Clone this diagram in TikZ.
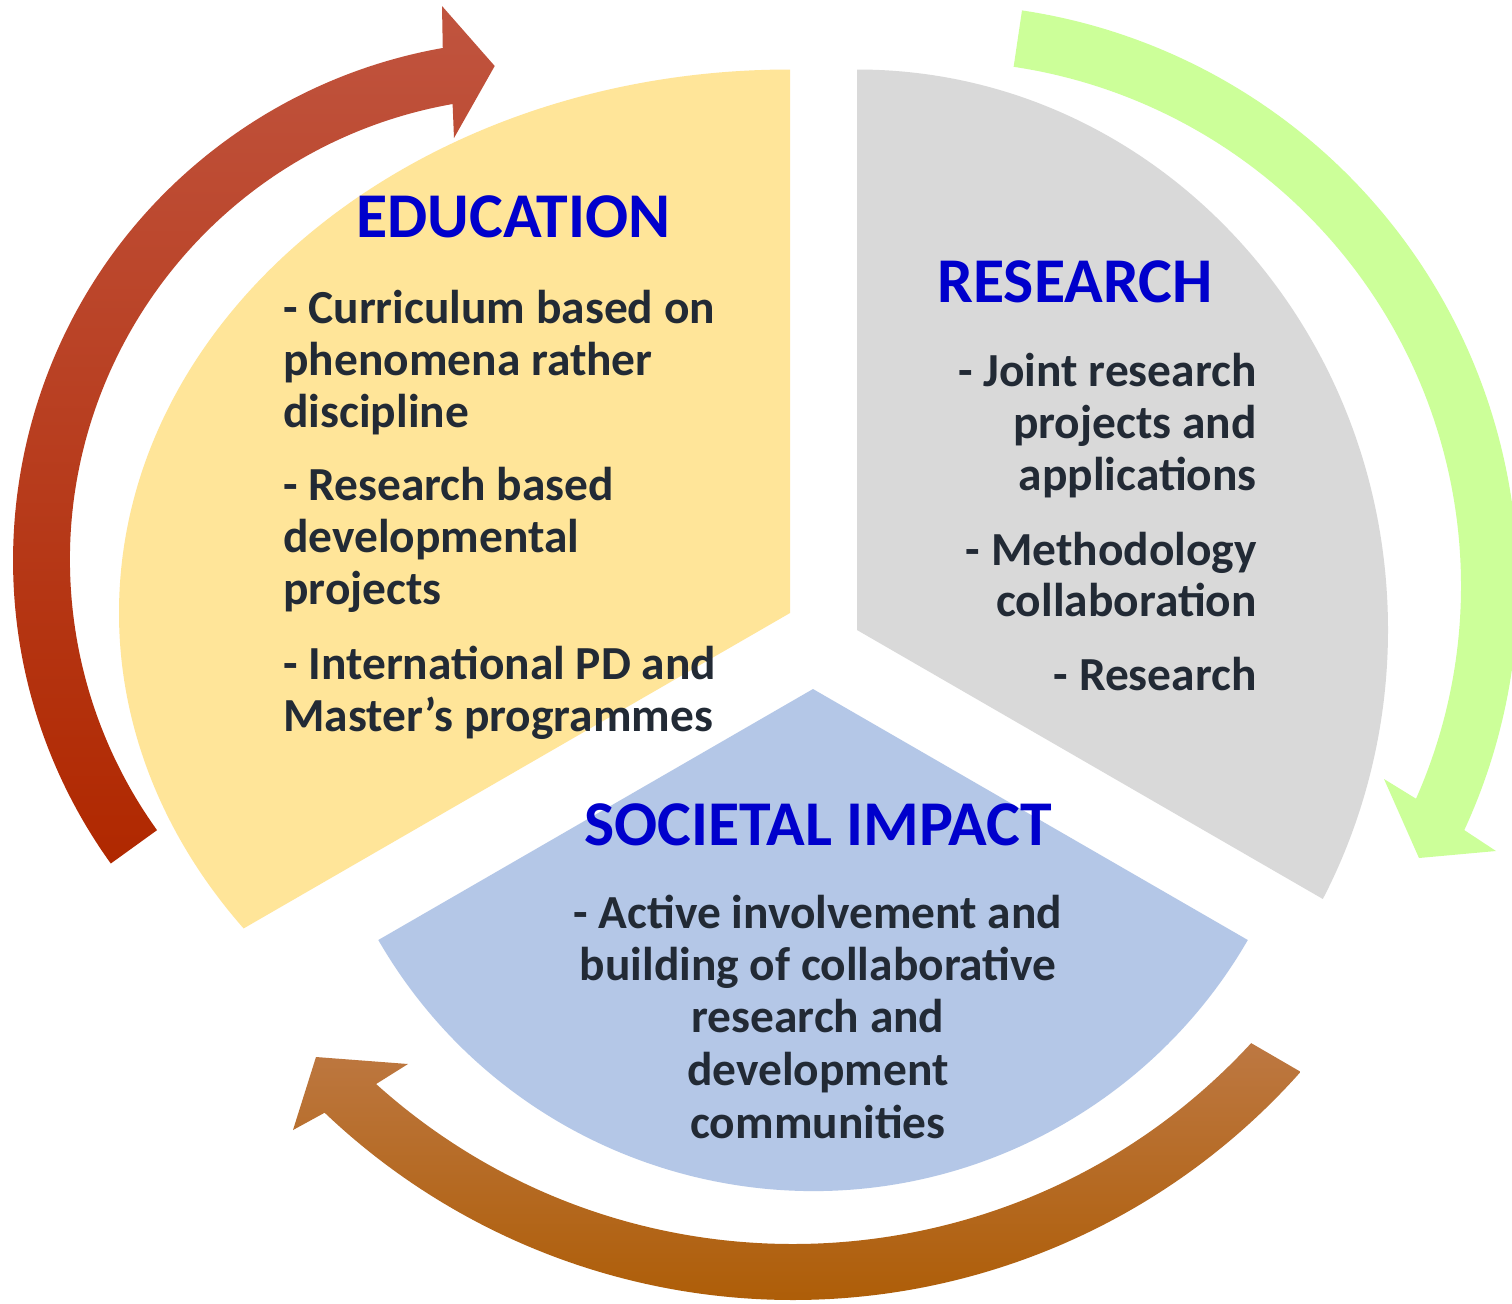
\documentclass[tikz,border=0pt]{standalone}
\usepackage{fontspec}
\setmainfont{Carlito}
\definecolor{edufill}{RGB}{255,229,153}
\definecolor{resfill}{RGB}{217,217,217}
\definecolor{socfill}{RGB}{180,199,231}
\definecolor{greenarrow}{RGB}{204,255,153}
\definecolor{redtop}{RGB}{192,84,63}
\definecolor{redbot}{RGB}{176,40,0}
\definecolor{orangetop}{RGB}{189,120,66}
\definecolor{orangebot}{RGB}{172,90,0}
\definecolor{headblue}{RGB}{0,0,204}
\definecolor{bodytxt}{RGB}{34,42,53}
\begin{document}
\begin{tikzpicture}[x=0.02cm, y=-0.02cm,
  headtxt/.style={font=\fontsize{36.3}{40}\selectfont\bfseries, text=headblue, inner sep=0pt},
  bodyline/.style={font=\fontsize{27}{30}\selectfont\bfseries, text=bodytxt, inner sep=0pt}]
\useasboundingbox (0,0) rectangle (1512,1303);
\fill[white] (0,0) rectangle (1512,1303);

% --- pie segments ---
\fill[edufill] (790,613) -- (790,69.5) arc[start angle=-90, end angle=-215.48, x radius=671, y radius=543.5] -- cycle;
\fill[resfill] (857,630) -- (857,69.5) arc[start angle=-90, end angle=28.68, x radius=531, y radius=560.5] -- cycle;
\fill[socfill] (813,689) -- (378.3,940) arc[start angle=150, end angle=30, radius=502] -- cycle;

% --- circular arrows ---
\path[top color=redtop, bottom color=redbot]
  (110.8,863.5) arc[start angle=144.3, end angle=260, radius=520]
  -- (442,6) -- (494.7,66) -- (454,138)
  -- (452.6,104) arc[start angle=260, end angle=144.3, radius=463] -- cycle;

\fill[greenarrow]
  (1022,10.4) arc[start angle=-81.5, end angle=24.8, radius=582]
  -- (1496,851) -- (1419,858) -- (1384,779)
  -- (1416,798.7) arc[start angle=23.9, end angle=-81.5, radius=525] -- cycle;

\path[top color=orangetop, bottom color=orangebot]
  (1300.6,1071.8) arc[start angle=41.6, end angle=133.6, radius=679]
  -- (293,1130) -- (316,1057) -- (408,1064)
  -- (376.1,1084) arc[start angle=132, end angle=42.65, radius=623] -- cycle;

% --- texts ---
\node[headtxt, anchor=base] (eduhead) at (513.5,237) {EDUCATION};
\node[bodyline, anchor=base west] (edu1) at (283,323) {- Curriculum based on};
\node[bodyline, anchor=base west] (edu2) at (283,375) {phenomena rather};
\node[bodyline, anchor=base west] (edu3) at (283,427) {discipline};
\node[bodyline, anchor=base west] (edu4) at (283,500) {- Research based};
\node[bodyline, anchor=base west] (edu5) at (283,552) {developmental};
\node[bodyline, anchor=base west] (edu6) at (283,604) {projects};
\node[bodyline, anchor=base west] (edu7) at (283,679) {- International PD and};
\node[bodyline, anchor=base west] (edu8) at (283,731) {Master’s programmes};

\node[headtxt, anchor=base] (reshead) at (1075,302) {RESEARCH};
\node[bodyline, anchor=base east] (res1) at (1257,386) {- Joint research};
\node[bodyline, anchor=base east] (res2) at (1257,438) {projects and};
\node[bodyline, anchor=base east] (res3) at (1257,490) {applications};
\node[bodyline, anchor=base east] (res4) at (1257,565) {- Methodology};
\node[bodyline, anchor=base east] (res5) at (1257,616) {collaboration};
\node[bodyline, anchor=base east] (res6) at (1257,690) {- Research};

\node[headtxt, anchor=base] (sochead) at (818.5,845) {SOCIETAL IMPACT};
\node[bodyline, anchor=base] (soc1) at (818,928) {- Active involvement and};
\node[bodyline, anchor=base] (soc2) at (818,980) {building of collaborative};
\node[bodyline, anchor=base] (soc3) at (818,1032) {research and};
\node[bodyline, anchor=base] (soc4) at (818,1085) {development};
\node[bodyline, anchor=base] (soc5) at (818,1138) {communities};
\end{tikzpicture}
\end{document}
